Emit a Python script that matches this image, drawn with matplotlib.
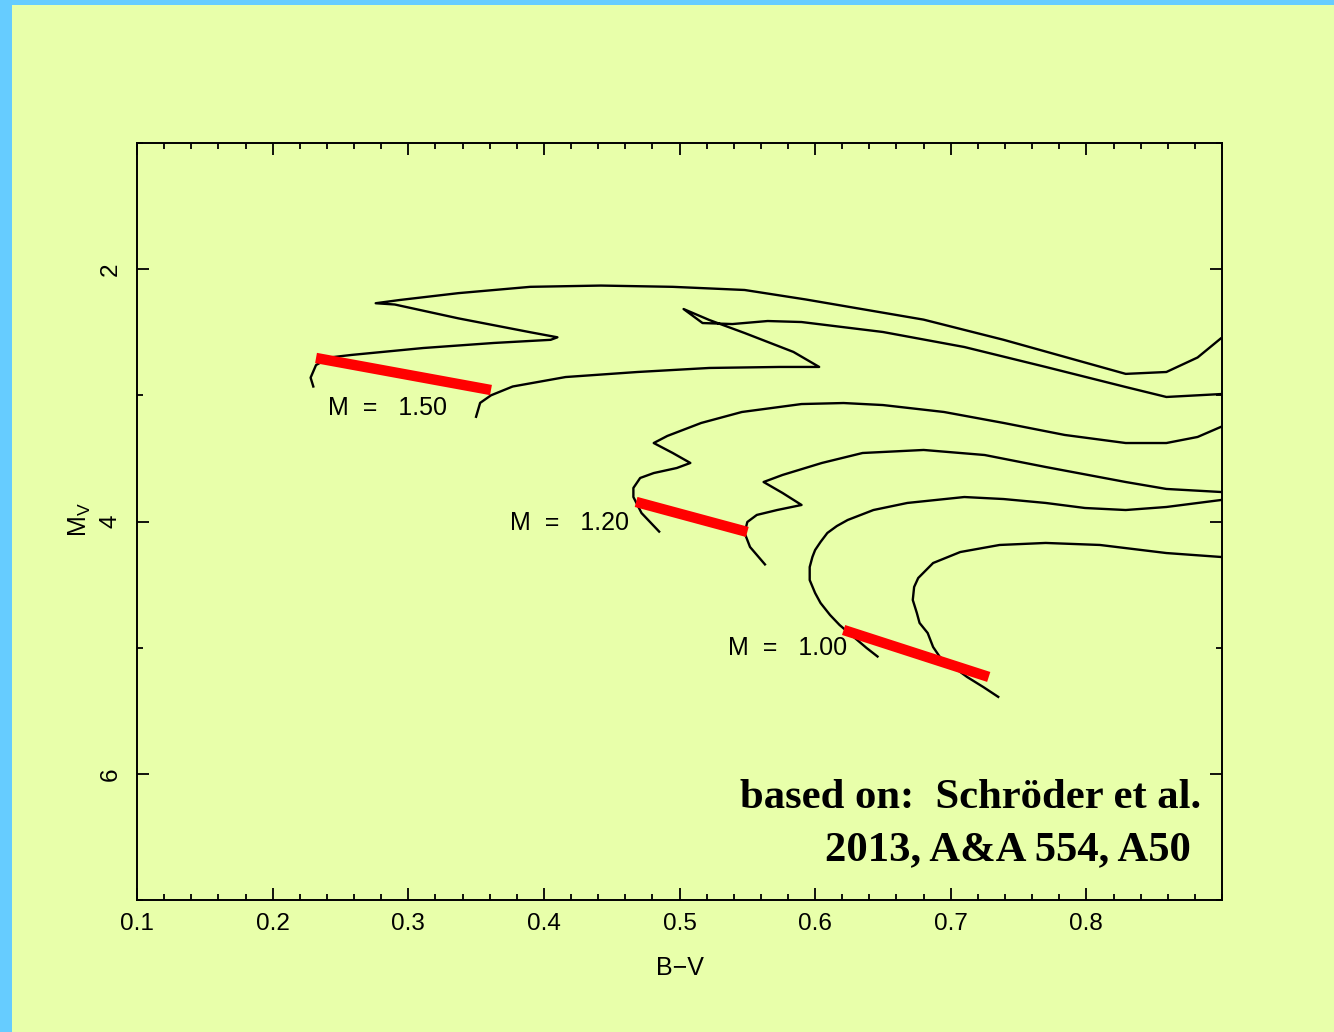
import matplotlib
matplotlib.use("Agg")
import matplotlib.pyplot as plt
from matplotlib.patches import Rectangle
from matplotlib.ticker import MultipleLocator
import numpy as np

# evolutionary tracks in the colour-magnitude plane (B-V, M_V)
# two tracks per mass, each starting at the bottom end
bv_150a = [0.230, 0.228, 0.232, 0.242, 0.258, 0.311, 0.363, 0.405, 0.410, 0.390, 0.337, 0.290,
           0.276, 0.294, 0.337, 0.390, 0.442, 0.495, 0.548, 0.593, 0.680, 0.739, 0.799, 0.829,
           0.859, 0.882, 0.899]
mv_150a = [2.93, 2.86, 2.76, 2.70, 2.68, 2.625, 2.585, 2.56, 2.54, 2.50, 2.39, 2.28,
           2.27, 2.244, 2.19, 2.14, 2.13, 2.14, 2.165, 2.24, 2.40, 2.56, 2.74, 2.83,
           2.815, 2.70, 2.55]

bv_150b = [0.350, 0.353, 0.361, 0.377, 0.416, 0.469, 0.522, 0.574, 0.603, 0.584, 0.548, 0.522,
           0.503, 0.517, 0.539, 0.565, 0.590, 0.650, 0.710, 0.770, 0.829, 0.859, 0.899]
mv_150b = [3.17, 3.06, 3.00, 2.93, 2.855, 2.815, 2.783, 2.775, 2.775, 2.656, 2.506, 2.403,
           2.316, 2.427, 2.435, 2.411, 2.419, 2.498, 2.617, 2.775, 2.934, 3.013, 2.99]

bv_120a = [0.485, 0.472, 0.466, 0.466, 0.471, 0.481, 0.498, 0.508, 0.495, 0.481, 0.491, 0.516,
           0.546, 0.590, 0.621, 0.650, 0.695, 0.739, 0.784, 0.829, 0.859, 0.882, 0.899]
mv_120a = [4.08, 3.933, 3.806, 3.734, 3.655, 3.616, 3.576, 3.536, 3.457, 3.378, 3.322, 3.219,
           3.132, 3.069, 3.061, 3.077, 3.132, 3.219, 3.314, 3.378, 3.378, 3.330, 3.251]

bv_120b = [0.563, 0.552, 0.548, 0.550, 0.557, 0.572, 0.590, 0.576, 0.562, 0.576, 0.605, 0.635,
           0.680, 0.725, 0.770, 0.829, 0.859, 0.899]
mv_120b = [4.34, 4.202, 4.091, 4.004, 3.948, 3.909, 3.869, 3.774, 3.687, 3.631, 3.536, 3.457,
           3.433, 3.473, 3.568, 3.687, 3.742, 3.766]

bv_100a = [0.646, 0.638, 0.631, 0.618, 0.611, 0.604, 0.600, 0.596, 0.596, 0.598, 0.600, 0.604,
           0.609, 0.616, 0.624, 0.643, 0.668, 0.710, 0.739, 0.770, 0.799, 0.829, 0.859, 0.899]
mv_100a = [5.07, 5.003, 4.939, 4.820, 4.741, 4.646, 4.567, 4.464, 4.361, 4.281, 4.226, 4.162,
           4.091, 4.036, 3.988, 3.909, 3.853, 3.806, 3.822, 3.853, 3.893, 3.909, 3.885, 3.830]

bv_100b = [0.735, 0.724, 0.712, 0.702, 0.692, 0.687, 0.683, 0.677, 0.675, 0.672, 0.673, 0.676,
           0.687, 0.707, 0.736, 0.770, 0.810, 0.859, 0.899]
mv_100b = [5.39, 5.312, 5.232, 5.153, 5.074, 4.995, 4.884, 4.804, 4.725, 4.622, 4.519, 4.448,
           4.329, 4.242, 4.186, 4.170, 4.186, 4.250, 4.281]

tracks = [(bv_150a, mv_150a), (bv_150b, mv_150b), (bv_120a, mv_120a),
          (bv_120b, mv_120b), (bv_100a, mv_100a), (bv_100b, mv_100b)]

# red segments joining the two tracks of each mass
bar_bv = [[0.232, 0.361], [0.468, 0.550], [0.621, 0.728]]
bar_mv = [[2.704, 2.958], [3.845, 4.083], [4.860, 5.232]]

mass_labels = ["M  =   1.50", "M  =   1.20", "M  =   1.00"]
label_bv = [0.241, 0.375, 0.536]
label_mv = [3.10, 4.01, 5.00]

bg = "#E8FFAA"
fig = plt.figure(figsize=(13.34, 10.32), dpi=100, facecolor="#66CCFF")
fig.patches.append(Rectangle((12 / 1334, 0), 1, 1 - 5 / 1032, transform=fig.transFigure,
                             facecolor=bg, edgecolor="none", zorder=-10))

ax = fig.add_axes([137 / 1334, 1 - 900 / 1032, 1085 / 1334, 757 / 1032])
ax.set_facecolor(bg)
for s in ax.spines.values():
    s.set_linewidth(1.4)

for bv, mv in tracks:
    ax.plot(bv, mv, color="black", lw=1.7, zorder=2)

for bv, mv in zip(bar_bv, bar_mv):
    ax.plot(bv, mv, color="#FF0000", lw=7.5, solid_capstyle="butt", zorder=3)

for txt, x, y in zip(mass_labels, label_bv, label_mv):
    ax.text(x, y, txt, fontsize=18, family="Liberation Sans", ha="left", va="center")

ax.set_xlim(0.1, 0.9)
ax.set_ylim(7, 1)
ax.set_xticks([0.1, 0.2, 0.3, 0.4, 0.5, 0.6, 0.7, 0.8])
ax.set_xticklabels(["0.1", "0.2", "0.3", "0.4", "0.5", "0.6", "0.7", "0.8"])
ax.xaxis.set_minor_locator(MultipleLocator(0.02))
ax.set_yticks([2, 4, 6])
ax.yaxis.set_minor_locator(MultipleLocator(1))
ax.tick_params(which="both", direction="in", top=True, right=True, width=1.3, labelsize=17.5)
ax.tick_params(which="major", length=8.5)
ax.tick_params(which="minor", length=4.3)
ax.tick_params(axis="x", pad=9)
ax.tick_params(axis="y", pad=11)
for lab in ax.get_yticklabels():
    lab.set_rotation(90)
    lab.set_va("center")
for lab in ax.get_xticklabels() + ax.get_yticklabels():
    lab.set_family("Liberation Sans")

ax.set_xlabel("B\u2212V", fontsize=18, family="Liberation Sans", va="center")
ax.xaxis.set_label_coords(0.5, -0.09)
ax.set_ylabel("M$_\\mathregular{V}$", fontsize=18, family="Liberation Sans", va="center")
ax.yaxis.set_label_coords(-0.0525, 0.502)

ax.text(0.8845, 6.271, "based on:  Schr\u00f6der et al.", fontsize=30.7, family="Liberation Serif",
        weight="bold", ha="right", va="baseline")
ax.text(0.8771, 6.683, "2013, A&A 554, A50", fontsize=30.7, family="Liberation Serif",
        weight="bold", ha="right", va="baseline")

fig.savefig("out.png", dpi=100, facecolor=fig.get_facecolor())
